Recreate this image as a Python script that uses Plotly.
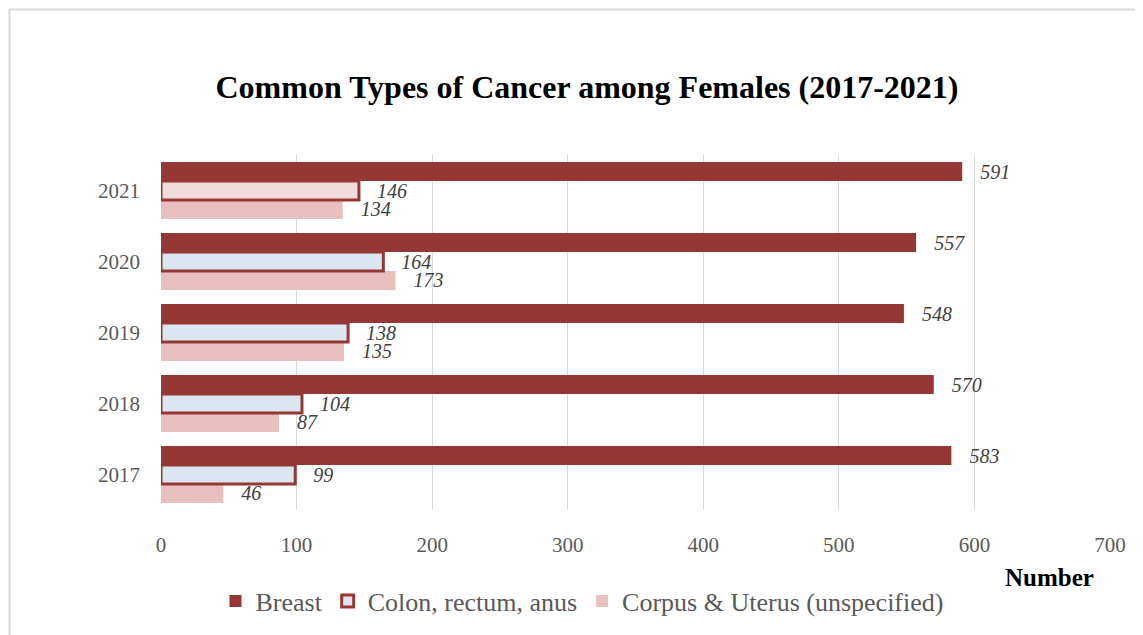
import plotly.graph_objects as go

years = ["2017", "2018", "2019", "2020", "2021"]
breast = [583, 570, 548, 557, 591]
colon = [99, 104, 138, 164, 146]
corpus = [46, 87, 135, 173, 134]
colon_fill = ["#dce6f1", "#dce6f1", "#dce6f1", "#dce6f1", "#f2dcdb"]

FONT = "Liberation Serif, Times New Roman, serif"
PAD = "\u00a0\u00a0\u00a0"
label_font = dict(family=FONT, size=20, color="#404040", style="italic")

fig = go.Figure()
fig.add_trace(go.Bar(
    y=years, x=corpus, orientation="h", name="Corpus & Uterus (unspecified)",
    marker=dict(color="#e8bfbf", line=dict(width=0)),
    text=corpus, texttemplate=PAD + "%{x}", textposition="outside",
    textfont=label_font, cliponaxis=False, constraintext="none", legendrank=3,
))
fig.add_trace(go.Bar(
    y=years, x=colon, orientation="h", name="Colon, rectum, anus",
    marker=dict(color=colon_fill, line=dict(color="#953735", width=3)),
    text=colon, texttemplate=PAD + "%{x}", textposition="outside",
    textfont=label_font, cliponaxis=False, constraintext="none", legendrank=2,
))
fig.add_trace(go.Bar(
    y=years, x=breast, orientation="h", name="Breast",
    marker=dict(color="#953735", line=dict(width=0)),
    text=breast, texttemplate=PAD + "%{x}", textposition="outside",
    textfont=label_font, cliponaxis=False, constraintext="none", legendrank=1,
))

OFF = 8  # page body margin
W, H = 1143 - OFF, 635 - OFF
L, T = 161 - OFF, 155 - OFF
R = W - (1110 - OFF)
B = H - (510 - OFF)
pw, ph = W - L - R, H - T - B


def px_x(p):
    return (p - 161) / pw


def px_y(p):
    return (510 - p) / ph


fig.update_layout(
    width=W, height=H,
    margin=dict(l=L, r=R, t=T, b=B, pad=0),
    paper_bgcolor="white", plot_bgcolor="white",
    barmode="group", bargap=0.2, bargroupgap=0,
    font=dict(family=FONT, color="#595959"),
    title=dict(text="<b>Common Types of Cancer among Females (2017-2021)</b>",
               x=(587 - OFF) / W, xanchor="center", y=1 - (87 - OFF) / H,
               yanchor="middle",
               font=dict(family=FONT, size=32, color="black")),
    xaxis=dict(range=[0, 700], dtick=100, showgrid=True, gridcolor="#d9d9d9",
               gridwidth=1.3, zeroline=False, showline=False,
               tickfont=dict(family=FONT, size=21, color="#595959"),
               ticklabelstandoff=20),
    yaxis=dict(categoryorder="array", categoryarray=years, showgrid=False,
               showline=False, zeroline=False,
               tickfont=dict(family=FONT, size=21, color="#595959"),
               ticklabelstandoff=20),
    legend=dict(orientation="h", x=(582 - OFF) / W, xanchor="center",
                xref="container", y=1 - (601 - OFF) / H, yanchor="middle",
                yref="container",
                font=dict(family=FONT, size=26, color="#595959"),
                traceorder="normal", itemwidth=30),
    showlegend=True,
    annotations=[dict(text="<b>Number</b>", xref="paper", yref="paper",
                      x=px_x(1096), xanchor="right",
                      y=px_y(577), yanchor="middle", showarrow=False,
                      font=dict(family=FONT, size=25, color="black"))],
    shapes=[dict(type="rect", xref="paper", yref="paper",
                 x0=px_x(9.5), x1=px_x(1160),
                 y0=px_y(660), y1=px_y(9.5),
                 line=dict(color="#d9d9d9", width=2), fillcolor="rgba(0,0,0,0)",
                 layer="below")],
)

fig.write_html("out.html")
